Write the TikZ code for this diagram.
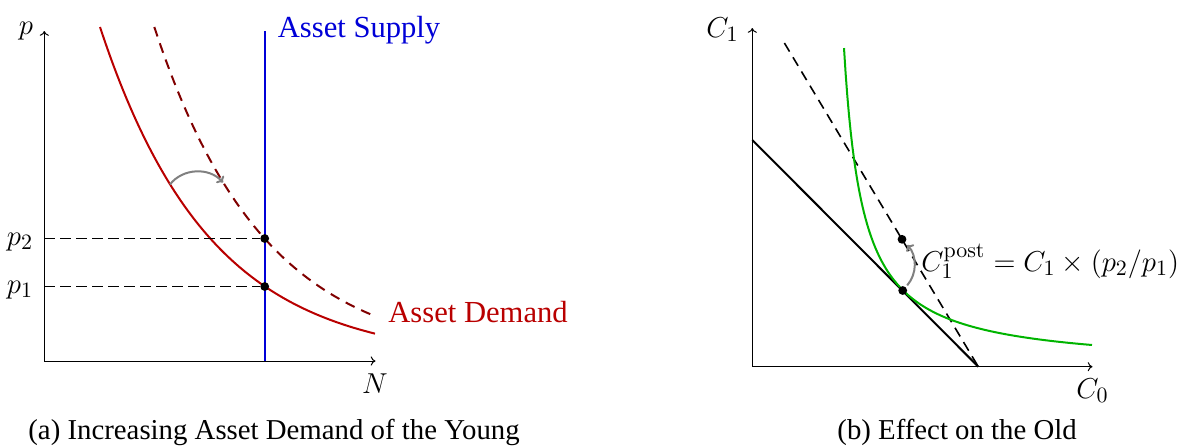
\documentclass[tikz,border=0pt]{standalone}
\usepackage[no-math]{fontspec}
\setmainfont{Liberation Serif}
\usetikzlibrary{arrows.meta}
\definecolor{demand}{RGB}{185,0,0}
\definecolor{demanddark}{RGB}{128,0,0}
\definecolor{supply}{RGB}{0,0,215}
\definecolor{indiff}{RGB}{0,180,0}
\definecolor{shiftgray}{RGB}{128,128,128}
\tikzset{
  axisline/.style={line width=0.5pt,-{To[length=2.4pt,width=4.6pt]}},
  guide/.style={line width=0.5pt,dash pattern=on 5.5pt off 2.5pt},
  curve/.style={line width=1pt},
  shiftarrow/.style={line width=1pt,shiftgray,-{To[length=2.6pt,width=5.2pt]}},
  dot/.style={circle,fill=black,inner sep=0pt,minimum size=4.4pt},
  lab/.style={inner sep=0pt,font=\fontsize{15.3}{18}\selectfont},
  captext/.style={inner sep=0pt,font=\fontsize{14.4}{17}\selectfont}
}
\begin{document}
\begin{tikzpicture}[x=0.5pt,y=-0.5pt]
\useasboundingbox (0,0) rectangle (1194,446);
% ---------- panel (a) ----------
\coordinate (O1) at (44.3,361);
\coordinate (Ytip1) at (44.3,31);
\coordinate (Xtip1) at (375.5,361);
\draw[axisline] (O1) -- (Ytip1);
\draw[axisline] (O1) -- (Xtip1);
\node[lab,anchor=base east] (plab) at (33.5,34.5) {$p$};
\node[lab,anchor=base] (Nlab) at (375,393) {$N$};
% supply
\coordinate (Sbot) at (264.7,361);
\coordinate (Stop) at (264.7,31);
\draw[curve,supply] (Sbot) -- (Stop);
\node[lab,anchor=base west,text=supply] (supplylab) at (277.5,37.5) {Asset Supply};
% demand curves
\draw[curve,demand] plot[domain=100:375,samples=120] (\x,{361-334*exp(-0.0091*(\x-100))});
\draw[curve,demanddark,dash pattern=on 5pt off 3.6pt] plot[domain=154.3:375,samples=120] (\x,{361-334*exp(-0.0091*(\x-154.3))});
\node[lab,anchor=base west,text=demand] (demandlab) at (388,322) {Asset Demand};
% equilibria
\node[dot] (E2) at (264.7,238.5) {};
\node[dot] (E1) at (264.7,286.5) {};
\coordinate (P2) at (44.3,238.5);
\coordinate (P1) at (44.3,286.5);
\draw[guide] (P2) -- (E2);
\draw[guide] (P1) -- (E1);
\node[lab,anchor=base east] (p2lab) at (33.5,245) {$p_2$};
\node[lab,anchor=base east] (p1lab) at (33.5,293.5) {$p_1$};
% shift arrow
\coordinate (A1) at (170,184.4);
\coordinate (A2) at (223,182.5);
\draw[shiftarrow] (A1) to[bend left=50] (A2);
\node[captext,anchor=base west] (capa) at (28,439.5) {(a) Increasing Asset Demand of the Young};
% ---------- panel (b) ----------
\coordinate (O2) at (752.3,366.7);
\coordinate (Ytip2) at (752.3,28);
\coordinate (Xtip2) at (1092.5,366.7);
\draw[axisline] (O2) -- (Ytip2);
\draw[axisline] (O2) -- (Xtip2);
\node[lab,anchor=base east] (C1lab) at (739,37.5) {$C_1$};
\node[lab,anchor=base west] (C0lab) at (1076,398) {$C_0$};
\coordinate (Bt) at (752.3,140);
\coordinate (Bb) at (978.3,366.7);
\coordinate (Dt) at (784.4,43);
\draw[curve,black] (Bt) -- (Bb);
\draw[line width=0.8pt,dash pattern=on 5pt off 3.3pt] (Dt) -- (Bb);
\draw[curve,indiff] plot[domain=844:1092,samples=150] (\x,{367.5-6006/(\x-825.2)});
\node[dot] (T) at (902.7,290.5) {};
\node[dot] (U) at (902,239.3) {};
\draw[shiftarrow,shorten >=1.5pt,shorten <=1pt] (T) to[bend right=42] (U);
\node[lab,anchor=base west] (postlab) at (921,271.5) {$C_1^{\mathrm{post}} = C_1 \times (p_2/p_1)$};
\node[captext,anchor=base west] (capb) at (837,439.5) {(b) Effect on the Old};
\end{tikzpicture}
\end{document}
